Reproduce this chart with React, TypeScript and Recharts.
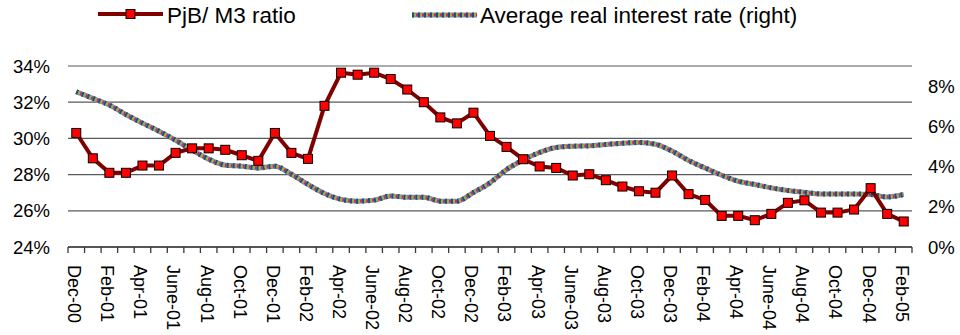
import React from "react";
import { LineChart, Line, XAxis, YAxis, CartesianGrid } from "recharts";

const months = [
  "Dec-00", "Jan-01", "Feb-01", "Mar-01", "Apr-01", "May-01", "June-01", "July-01", "Aug-01", "Sep-01", "Oct-01", "Nov-01",
  "Dec-01", "Jan-02", "Feb-02", "Mar-02", "Apr-02", "May-02", "June-02", "July-02", "Aug-02", "Sep-02", "Oct-02", "Nov-02",
  "Dec-02", "Jan-03", "Feb-03", "Mar-03", "Apr-03", "May-03", "June-03", "July-03", "Aug-03", "Sep-03", "Oct-03", "Nov-03",
  "Dec-03", "Jan-04", "Feb-04", "Mar-04", "Apr-04", "May-04", "June-04", "July-04", "Aug-04", "Sep-04", "Oct-04", "Nov-04",
  "Dec-04", "Jan-05", "Feb-05",
];

// PjB / M3 ratio, % (left axis)
const pjbM3Ratio = [
  30.3, 28.9, 28.1, 28.1, 28.5, 28.5, 29.2, 29.45, 29.45, 29.37, 29.07, 28.76,
  30.3, 29.2, 28.87, 31.8, 33.63, 33.52, 33.63, 33.28, 32.7, 32.0, 31.16, 30.83,
  31.42, 30.14, 29.53, 28.85, 28.45, 28.37, 27.95, 28.02, 27.69, 27.34, 27.08, 27.0,
  27.95, 26.92, 26.6, 25.72, 25.72, 25.48, 25.83, 26.44, 26.58, 25.9, 25.9, 26.07,
  27.25, 25.83, 25.41,
];

// average real interest rate, % (right axis)
const realRate = [
  7.72, 7.39, 7.06, 6.59, 6.16, 5.76, 5.31, 4.82, 4.37, 4.07, 4.02, 3.93,
  4.02, 3.62, 3.11, 2.66, 2.37, 2.28, 2.33, 2.54, 2.47, 2.47, 2.28, 2.28,
  2.71, 3.19, 3.85, 4.33, 4.7, 4.95, 5.01, 5.03, 5.1, 5.16, 5.2, 5.11,
  4.77, 4.3, 3.93, 3.57, 3.27, 3.11, 2.94, 2.81, 2.72, 2.64, 2.64, 2.64,
  2.61, 2.49, 2.61,
];

const leftTicks = [24, 26, 28, 30, 32, 34];
const rightTicks = [0, 2, 4, 6, 8];

const data = months.map((month, i) => ({
  month,
  ratio: pjbM3Ratio[i],
  rate: realRate[i],
}));

const W = 960;
const H = 335;
const M = { top: 66, right: 0, left: 8, bottom: 8 };
const LEFT_AXIS_W = 60;
const RIGHT_AXIS_W = 48;
const X_AXIS_H = 80;
const AXIS_Y = H - M.bottom - X_AXIS_H;
const PLOT_W = W - M.left - M.right - LEFT_AXIS_W - RIGHT_AXIS_W;
const BAND = PLOT_W / months.length;

const FONT = "'Liberation Sans', Arial, sans-serif";
const MAROON = "#800000";
const AXIS_COLOR = "#3a3a3a";

// Excel-style patterned line: grey-blue base with coloured dots on top
const patternLayers = [
  { color: "#7f93a6", width: 5, dash: undefined, offset: 0 },
  { color: "#17507c", width: 5, dash: "2 4", offset: 0 },
  { color: "#c42a68", width: 3, dash: "2 4", offset: 2 },
  { color: "#a6b42a", width: 3, dash: "2 4", offset: 4 },
];

function SquareDot(props: any) {
  const { cx, cy } = props;
  if (cx == null || cy == null) return null;
  return (
    <rect x={cx - 4.5} y={cy - 4.5} width={9} height={9} fill="#ff0000" stroke="#000" strokeWidth={1} />
  );
}

function MonthTick(props: any) {
  const { x, index, payload } = props;
  const last = index === months.length - 1;
  return (
    <g>
      <line x1={x - BAND / 2} x2={x - BAND / 2} y1={AXIS_Y} y2={AXIS_Y + 6} stroke={AXIS_COLOR} strokeWidth={1.3} />
      {last && (
        <line x1={x + BAND / 2} x2={x + BAND / 2} y1={AXIS_Y} y2={AXIS_Y + 6} stroke={AXIS_COLOR} strokeWidth={1.3} />
      )}
      {index % 2 === 0 && (
        <text
          x={x}
          y={AXIS_Y + 18}
          dy="0.45em"
          transform={`rotate(90, ${x}, ${AXIS_Y + 18})`}
          textAnchor="start"
          fontSize={18}
          fontFamily={FONT}
          fill="#000"
        >
          {payload.value}
        </text>
      )}
    </g>
  );
}

function LegendBar() {
  return (
    <svg width={W} height={34} style={{ position: "absolute", left: 0, top: 0 }}>
      <line x1={98} x2={163} y1={14} y2={14} stroke={MAROON} strokeWidth={4} />
      <rect x={126} y={9.5} width={9} height={9} fill="#ff0000" stroke="#000" strokeWidth={1} />
      <text x={167} y={22.5} fontSize={22.5} fontFamily={FONT} fill="#000">
        PjB/ M3 ratio
      </text>
      {patternLayers.map((l, k) => (
        <line
          key={k}
          x1={412}
          x2={477}
          y1={15}
          y2={15}
          stroke={l.color}
          strokeWidth={l.width}
          strokeDasharray={l.dash}
          strokeDashoffset={l.offset}
        />
      ))}
      <text x={480} y={22.5} fontSize={22.5} fontFamily={FONT} fill="#000">
        Average real interest rate (right)
      </text>
    </svg>
  );
}

export default function App() {
  return (
    <div style={{ position: "absolute", left: 0, top: 0, width: W, height: H, background: "#fff" }}>
      <LineChart width={W} height={H} data={data} margin={M}>
        <CartesianGrid yAxisId="left" vertical={false} stroke="#5a5a5a" strokeWidth={1.2} />
        <XAxis
          dataKey="month"
          interval={0}
          height={X_AXIS_H}
          padding={{ left: BAND / 2, right: BAND / 2 }}
          tickLine={false}
          axisLine={{ stroke: AXIS_COLOR, strokeWidth: 1.3 }}
          tick={<MonthTick />}
        />
        <YAxis
          yAxisId="left"
          width={LEFT_AXIS_W}
          domain={[24, 34]}
          ticks={leftTicks}
          tickFormatter={(v: number) => `${v}%`}
          axisLine={false}
          tickLine={false}
          tickSize={6}
          tickMargin={12}
          tick={{ fontSize: 18.5, fontFamily: FONT, fill: "#000" }}
        />
        <YAxis
          yAxisId="right"
          orientation="right"
          width={RIGHT_AXIS_W}
          domain={[0, 9]}
          ticks={rightTicks}
          tickFormatter={(v: number) => `${v}%`}
          axisLine={false}
          tickLine={false}
          tickSize={6}
          tickMargin={10}
          tick={{ fontSize: 18.5, fontFamily: FONT, fill: "#000", textAnchor: "start" }}
        />
        {patternLayers.map((l, k) => (
          <Line
            key={`rate-${k}`}
            yAxisId="right"
            type="monotone"
            dataKey="rate"
            stroke={l.color}
            strokeWidth={l.width}
            strokeDasharray={l.dash}
            strokeDashoffset={l.offset}
            dot={false}
            activeDot={false}
            isAnimationActive={false}
          />
        ))}
        <Line
          yAxisId="left"
          type="linear"
          dataKey="ratio"
          stroke={MAROON}
          strokeWidth={4}
          dot={<SquareDot />}
          activeDot={false}
          isAnimationActive={false}
        />
      </LineChart>
      <LegendBar />
    </div>
  );
}
